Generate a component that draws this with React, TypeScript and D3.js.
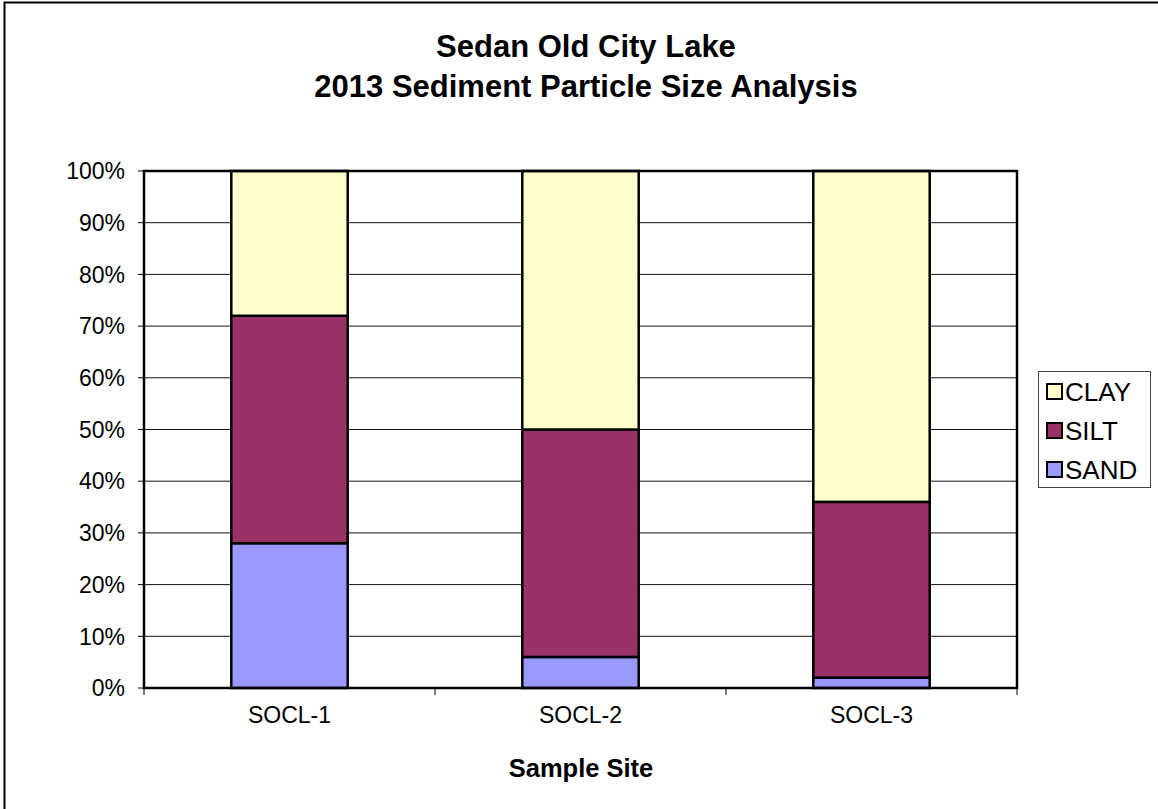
import React from "react";
import * as d3 from "d3";

const sites = ["SOCL-1", "SOCL-2", "SOCL-3"];
const sand = [28, 6, 2];
const silt = [44, 44, 34];
const clay = [28, 50, 64];
const seriesNames = ["SAND", "SILT", "CLAY"];
const seriesColors = ["#9999FF", "#993366", "#FFFFCC"];
const yTicks = [0, 10, 20, 30, 40, 50, 60, 70, 80, 90, 100];

const W = 1158;
const H = 809;
const plot = { left: 144, right: 1017, top: 171, bottom: 688 };
const font = "Arial, 'Liberation Sans', sans-serif";

export default function App() {
  const x = d3.scaleBand<string>().domain(sites).range([plot.left, plot.right]).paddingInner(0.6).paddingOuter(0.3);
  const y = d3.scaleLinear().domain([0, 100]).range([plot.bottom, plot.top]);

  const rows = sites.map((s, i) => ({ site: s, SAND: sand[i], SILT: silt[i], CLAY: clay[i] }));
  const stacked = d3.stack<any>().keys(seriesNames)(rows);

  const step = (plot.right - plot.left) / sites.length;
  const xTickPos = d3.range(sites.length + 1).map((i) => plot.left + i * step);

  const legendItems = [...seriesNames].reverse();

  return (
    <svg width={W} height={H} style={{ position: "absolute", left: 0, top: 0, display: "block" }} fontFamily={font}>
      <rect x={0} y={0} width={W} height={H} fill="#fff" />
      <rect x={4.5} y={2.5} width={W + 20} height={H + 20} fill="none" stroke="#000" strokeWidth={2} />

      <text x={586} y={57} textAnchor="middle" fontWeight="bold" fontSize={31}>Sedan Old City Lake</text>
      <text x={586} y={97} textAnchor="middle" fontWeight="bold" fontSize={31}>2013 Sediment Particle Size Analysis</text>

      {yTicks.map((t) => (
        <g key={t}>
          {t > 0 && t < 100 && (
            <line x1={plot.left} x2={plot.right} y1={y(t)} y2={y(t)} stroke="#111" strokeWidth={1} />
          )}
          <line x1={plot.left - 6} x2={plot.left} y1={y(t)} y2={y(t)} stroke="#000" strokeWidth={1} />
          <text x={125} y={y(t)} dy="0.36em" textAnchor="end" fontSize={23}>{t}%</text>
        </g>
      ))}

      {stacked.map((layer, li) =>
        layer.map((d, i) => (
          <rect
            key={`${li}-${i}`}
            x={x(sites[i])}
            width={x.bandwidth()}
            y={y(d[1])}
            height={y(d[0]) - y(d[1])}
            fill={seriesColors[li]}
            stroke="#000"
            strokeWidth={2.5}
          />
        ))
      )}

      <rect x={plot.left} y={plot.top} width={plot.right - plot.left} height={plot.bottom - plot.top} fill="none" stroke="#000" strokeWidth={2.5} />

      {xTickPos.map((p, i) => (
        <line key={i} x1={p} x2={p} y1={plot.bottom} y2={plot.bottom + 7} stroke="#000" strokeWidth={1} />
      ))}
      {sites.map((s) => (
        <text key={s} x={(x(s) as number) + x.bandwidth() / 2} y={723} textAnchor="middle" fontSize={23}>{s}</text>
      ))}
      <text x={581} y={777} textAnchor="middle" fontWeight="bold" fontSize={25.5}>Sample Site</text>

      <rect x={1038.5} y={371.5} width={112} height={116} fill="#fff" stroke="#444" strokeWidth={1} />
      {legendItems.map((name, i) => {
        const ci = seriesNames.indexOf(name);
        const cy = 391 + i * 39;
        return (
          <g key={name}>
            <rect x={1047} y={cy - 7} width={15} height={15} fill={seriesColors[ci]} stroke="#000" strokeWidth={2} />
            <text x={1065} y={cy + 1} dy="0.36em" fontSize={26}>{name}</text>
          </g>
        );
      })}
    </svg>
  );
}
